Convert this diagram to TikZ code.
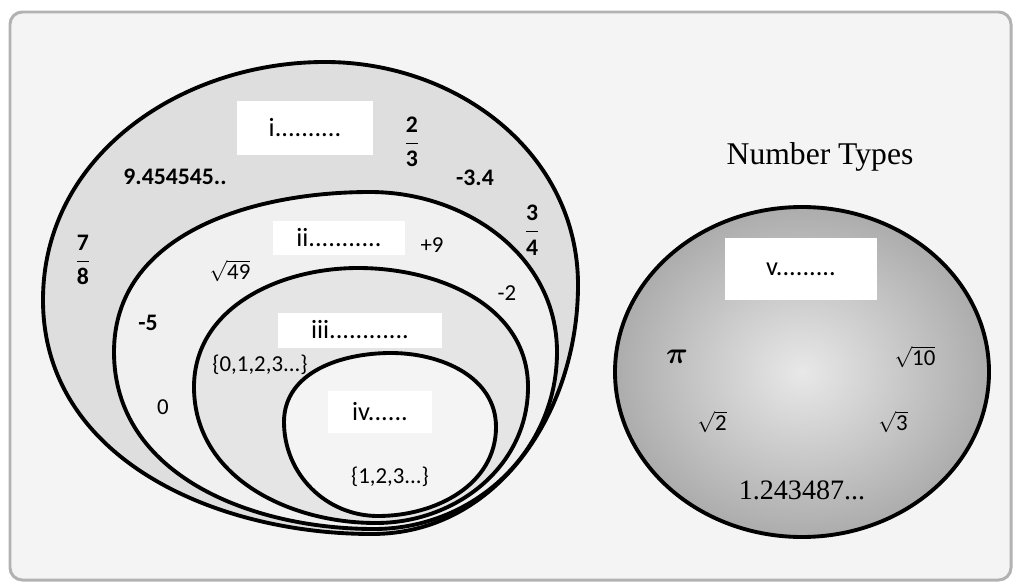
\documentclass[tikz,border=0pt]{standalone}
\usepackage{amsmath}
\usepackage{fontspec}
\setmainfont{Carlito}
\newfontfamily\timesfont{Liberation Serif}
\usepackage{tikz}

\begin{document}
\begin{tikzpicture}[x=0.02cm,y=-0.02cm,
  ring/.style={draw=black,line width=2.2pt},
  tag/.style={fill=white,inner sep=0pt,font=\fontsize{15}{17}\selectfont},
  num/.style={font=\fontsize{13.5}{15}\selectfont\bfseries},
  val/.style={font=\fontsize{13}{15}\selectfont}]
\useasboundingbox (0,0) rectangle (1016,584);
\draw[gray!60,line width=1.7pt,rounded corners=7pt,fill=gray!9](10,12) rectangle (1011,580);
% nested sets
\draw[ring,fill=gray!26](43,300) to[out=90,in=180](325,62) to[out=0,in=90](578,285)
  to[out=-90,in=0](372,534) to[out=180,in=-90](43,300);
\draw[ring,fill=gray!12](114,352) to[out=90,in=180](370,192) to[out=0,in=90](557,352)
  to[out=-90,in=0](374,529) to[out=180,in=-90](114,352);
\draw[ring,fill=gray!20](194,387) to[out=90,in=180](358,268) to[out=0,in=90](528,387)
  to[out=-90,in=0](376,523) to[out=180,in=-90](194,387);
\draw[ring,fill=gray!9](284,422) to[out=90,in=180](391,353) to[out=0,in=90](496,427)
  to[out=-90,in=0](378,516) to[out=180,in=-90](284,422);
\node[tag,minimum width=2.72cm,minimum height=1.1cm](real) at (305,128){i..........};
\node[tag,minimum width=2.64cm,minimum height=0.7cm](integer) at (339,238){ii...........};
\node[tag,minimum width=3.3cm,minimum height=0.7cm](whole) at (360,330){iii............};
\node[tag,minimum width=2.1cm,minimum height=0.85cm](natural) at (380,412){iv......};
\node[num](dec) at (175,177){9.454545..};
\node[num](twothirds) at (412,142){$\dfrac{\text{\bfseries 2}}{\text{\bfseries 3}}$};
\node[num](negdec) at (475,178){-3.4};
\node[num](seveneighths) at (83,260){$\dfrac{\text{\bfseries 7}}{\text{\bfseries 8}}$};
\node[num](threequarters) at (532,230){$\dfrac{\text{\bfseries 3}}{\text{\bfseries 4}}$};
\node[val](plusnine) at (432,245){+9};
\node[val](rootfortynine) at (230,271){$\sqrt{\text{49}}$};
\node[val](negtwo) at (507,293){-2};
\node[num](negfive) at (148,323){-5};
\node[val](zero) at (163,407){0};
\node[val](wholeset) at (260,365){\{0,1,2,3...\}};
\node[val](naturalset) at (390,477){\{1,2,3...\}};
% irrationals
\node[font=\timesfont\fontsize{18}{20}\selectfont](title) at (820,157){Number Types};
\draw[ring,inner color=gray!18,outer color=gray!65](802,372) ellipse [x radius=187,y radius=165];
\node[tag,minimum width=3.04cm,minimum height=1.24cm](irrational) at (801,269){v.........};
\node[font=\fontsize{16}{18}\selectfont](piv) at (677,357){$\boldsymbol{\pi}$};
\node[val](rootten) at (915,357){$\sqrt{\text{10}}$};
\node[val](roottwo) at (712,422){$\sqrt{\text{2}}$};
\node[val](rootthree) at (893,422){$\sqrt{\text{3}}$};
\node[font=\timesfont\fontsize{16}{18}\selectfont](nonrep) at (802,490){1.243487...};
\end{tikzpicture}
\end{document}
